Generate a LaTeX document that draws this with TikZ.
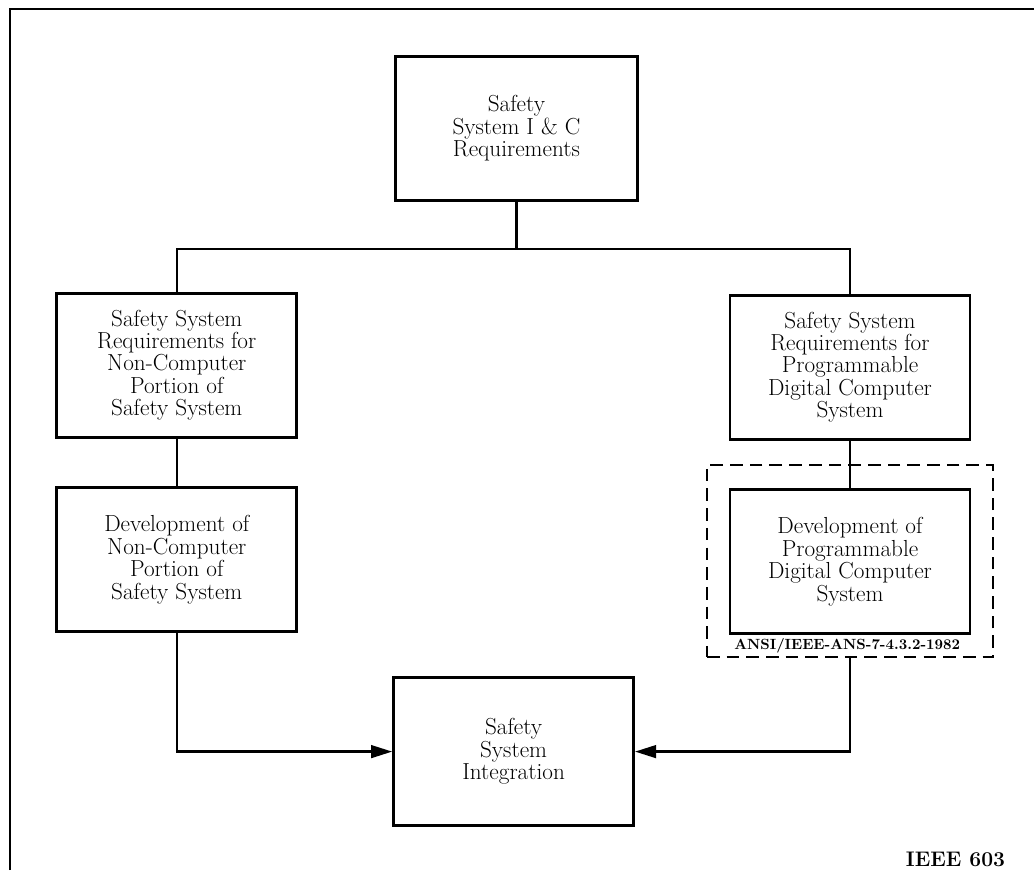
\documentclass[tikz,border=0pt]{standalone}
\usetikzlibrary{arrows}
\usetikzlibrary{arrows.meta}

\begin{document}
\begin{tikzpicture}
\tikzstyle{block}=[draw,line width=2pt,minimum width=6cm,minimum height=3.6cm,align=center,font=\fontsize{16.5}{16}\selectfont]
\tikzstyle{link}=[line width=1.7pt]
\tikzstyle{flow}=[link,-{Triangle[length=15pt,width=9pt]}]
\useasboundingbox (0,0) rectangle (25.85,-21.75);
\draw [line width=1pt] (0.25,-21.75) -- (0.25,-0.225) -- (25.85,-0.225);
\node [block, minimum width=6.05cm] (req) at (12.91,-3.21) {Safety\\System I \& C\\Requirements};
\node [block] (nreq) at (4.42,-9.13) {Safety System\\Requirements for\\Non-Computer\\Portion of\\Safety System};
\node [block] (ndev) at (4.42,-13.99) {Development of\\Non-Computer\\Portion of\\Safety System};
\node [block] (preq) at (21.25,-9.18) {Safety System\\Requirements for\\Programmable\\Digital Computer\\System};
\node [block] (pdev) at (21.25,-14.04) {Development of\\Programmable\\Digital Computer\\System};
\node [draw, line width=1.8pt, dash pattern=on 9pt off 5pt, minimum width=7.15cm, minimum height=4.8cm] (pdcbox) at (21.25,-14.03) {};
\node [font=\bfseries\fontsize{10.5}{12}\selectfont] (ansi) at (21.18,-16.14) {ANSI/IEEE-ANS-7-4.3.2-1982};
\node [block, minimum height=3.7cm] (integ) at (12.84,-18.79) {Safety\\System\\Integration};
\node [font=\bfseries\fontsize{15}{18}\selectfont, anchor=base east] (tag) at (25.25,-21.65) {IEEE 603};
\coordinate (split) at (12.91,-6.225);
\draw [link] (req.south) -- (split);
\draw [link] (nreq.north) |- (split) -| (preq.north);
\draw [link] (nreq) -- (ndev);
\draw [link] (preq) -- (pdev);
\draw [flow] (ndev.south) |- (integ.west);
\draw [flow] (pdcbox.south) |- (integ.east);
\end{tikzpicture}
\end{document}
